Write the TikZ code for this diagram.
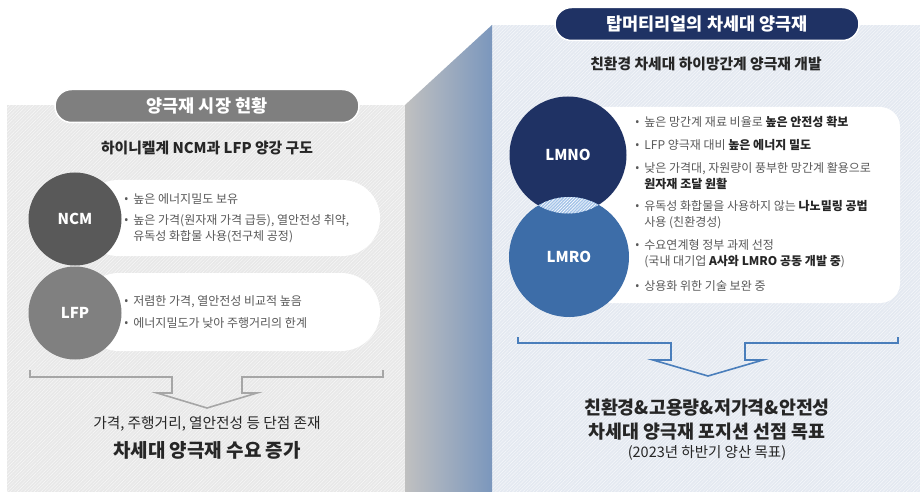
\documentclass[tikz,border=0pt]{standalone}
\usepackage{fontspec}
\setmainfont{Noto Sans CJK KR}
\newfontfamily\latinf{Noto Sans}
\usetikzlibrary{shapes.misc,patterns.meta}
\definecolor{lgray}{HTML}{E8E8E8}
\definecolor{lblue}{HTML}{E4E9F1}
\definecolor{gcircA}{HTML}{595959}
\definecolor{gcircB}{HTML}{808080}
\definecolor{gpill}{HTML}{7F7F7F}
\definecolor{navy}{HTML}{1F3264}
\definecolor{midblue}{HTML}{3D6DA8}
\definecolor{lensblue}{HTML}{A3C3E8}
\definecolor{gline}{HTML}{A6A6A6}
\definecolor{bline}{HTML}{4A7EBB}
\definecolor{txtg}{HTML}{595959}
\definecolor{txtd}{HTML}{262626}
\definecolor{bandL}{HTML}{C0C0C0}
\definecolor{bandR}{HTML}{7B97BD}
\newcommand{\bu}{{\latinf •}\ \,}
\newcommand{\bb}[1]{{\bfseries\color{txtd}#1}}
\tikzset{
  titlepill/.style={rounded rectangle, draw=white, line width=1.5pt, text=white, font=\bfseries\fontsize{17.5}{20}\selectfont, inner sep=0pt},
  sub/.style={font=\bfseries\fontsize{14.8}{17}\selectfont, text=txtd},
  disc/.style={circle, inner sep=0pt, text=white, font=\bfseries\fontsize{15}{17}\selectfont},
  bullet/.style={anchor=west, font=\fontsize{12}{16}\selectfont, text=txtg, align=left, inner sep=0pt},
  whitepill/.style={rounded rectangle, fill=white, inner sep=0pt},
  hatch/.style={pattern={Lines[angle=45,distance=2.4pt,line width=0.45pt]}, pattern color=white, opacity=0.7},
}
\begin{document}
\begin{tikzpicture}[x=1pt,y=-1pt]
\useasboundingbox (0,0) rectangle (922,492);
\fill[white] (0,0) rectangle (922,492);
% panels
\fill[lgray] (7,105) rectangle (405,492);
\fill[hatch] (7,105) rectangle (405,492);
\fill[lblue] (492,25) rectangle (920,492);
\fill[hatch] (492,25) rectangle (920,492);
\shade[left color=bandL, right color=bandR] (405,105) -- (492,25) -- (492,492) -- (405,492) -- cycle;

% ---------- left panel ----------
\node[titlepill, fill=gpill, minimum width=304pt, minimum height=33pt] (ltitle) at (207,106) {양극재 시장 현황};
\node[sub] (lsub) at (207,148) {하이니켈계 NCM과 LFP 양강 구도};

\node[whitepill, minimum width=300pt, minimum height=76pt] (ncmbox) at (230,218) {};
\node[disc, fill=gcircA, minimum size=93pt] (ncm) at (75,219) {NCM};
\node[bullet] (n1) at (124,199) {\bu 높은 에너지밀도 보유};
\node[bullet] (n2) at (124,229) {\bu 높은 가격(원자재 가격 급등), 열안전성 취약,\\\phantom{\bu}유독성 화합물 사용(전구체 공정)};

\node[whitepill, minimum width=300pt, minimum height=78pt] (lfpbox) at (230,312) {};
\node[disc, fill=gcircB, minimum size=93pt] (lfp) at (75,313) {LFP};
\node[bullet] (f1) at (124,302) {\bu 저렴한 가격, 열안전성 비교적 높음};
\node[bullet] (f2) at (124,323) {\bu 에너지밀도가 낮아 주행거리의 한계};

\draw[gline, line width=1.6pt, line join=miter] (30,370) -- (30,377) -- (172,377) -- (172,393) -- (157,393) -- (207,408) -- (257,393) -- (242,393) -- (242,377) -- (383,377) -- (383,370);
\node[font=\fontsize{14.7}{17}\selectfont, text=txtd] (lc1) at (207,424) {가격, 주행거리, 열안전성 등 단점 존재};
\node[font=\bfseries\fontsize{19}{22}\selectfont, text=txtd] (lc2) at (207,450) {차세대 양극재 수요 증가};

% ---------- right panel ----------
\node[titlepill, fill=navy, minimum width=304pt, minimum height=33pt] (rtitle) at (707,24) {탑머티리얼의 차세대 양극재};
\node[sub] (rsub) at (706,64) {친환경 차세대 하이망간계 양극재 개발};

\node[fill=white, rounded corners=20pt, minimum width=338pt, minimum height=196pt, inner sep=0pt] (rbox) at (731,205) {};
\node[disc, fill=navy, minimum size=117pt] (lmno) at (568,155) {LMNO};
\node[disc, fill=midblue, minimum size=120pt] (lmro) at (569,257) {LMRO};
\begin{scope}
  \clip (568,155) circle (58.5);
  \fill[lensblue] (569,257) circle (60);
  \fill[pattern={Lines[angle=45,distance=2.2pt,line width=0.6pt]}, pattern color=white] (569,257) circle (60);
\end{scope}
\node[bullet] (r1) at (635,122) {\bu 높은 망간계 재료 비율로 \bb{높은 안전성 확보}};
\node[bullet] (r2) at (635,145) {\bu LFP 양극재 대비 \bb{높은 에너지 밀도}};
\node[bullet] (r3) at (635,176) {\bu 낮은 가격대, 자원량이 풍부한 망간계 활용으로\\\phantom{\bu}\bb{원자재 조달 원활}};
\node[bullet] (r4) at (635,215) {\bu 유독성 화합물을 사용하지 않는 \bb{나노밀링 공법}\\\phantom{\bu}사용 (친환경성)};
\node[bullet] (r5) at (635,254) {\bu 수요연계형 정부 과제 선정\\\phantom{\bu}(국내 대기업 \bb{A사와 LMRO 공동 개발 중})};
\node[bullet] (r6) at (635,286) {\bu 상용화 위한 기술 보완 중};

\draw[bline, line width=1.6pt, line join=miter] (518,337) -- (518,343) -- (671,343) -- (671,360) -- (653,360) -- (708,376) -- (763,360) -- (745,360) -- (745,343) -- (898,343) -- (898,337);
\node[font=\bfseries\fontsize{18.4}{21}\selectfont, text=txtd] (rc1) at (707,408) {친환경\&고용량\&저가격\&안전성};
\node[font=\bfseries\fontsize{18.4}{21}\selectfont, text=txtd] (rc2) at (707,432) {차세대 양극재 포지션 선점 목표};
\node[font=\fontsize{14.5}{16}\selectfont, text=txtd] (rc3) at (707,453) {(2023년 하반기 양산 목표)};
\end{tikzpicture}
\end{document}
